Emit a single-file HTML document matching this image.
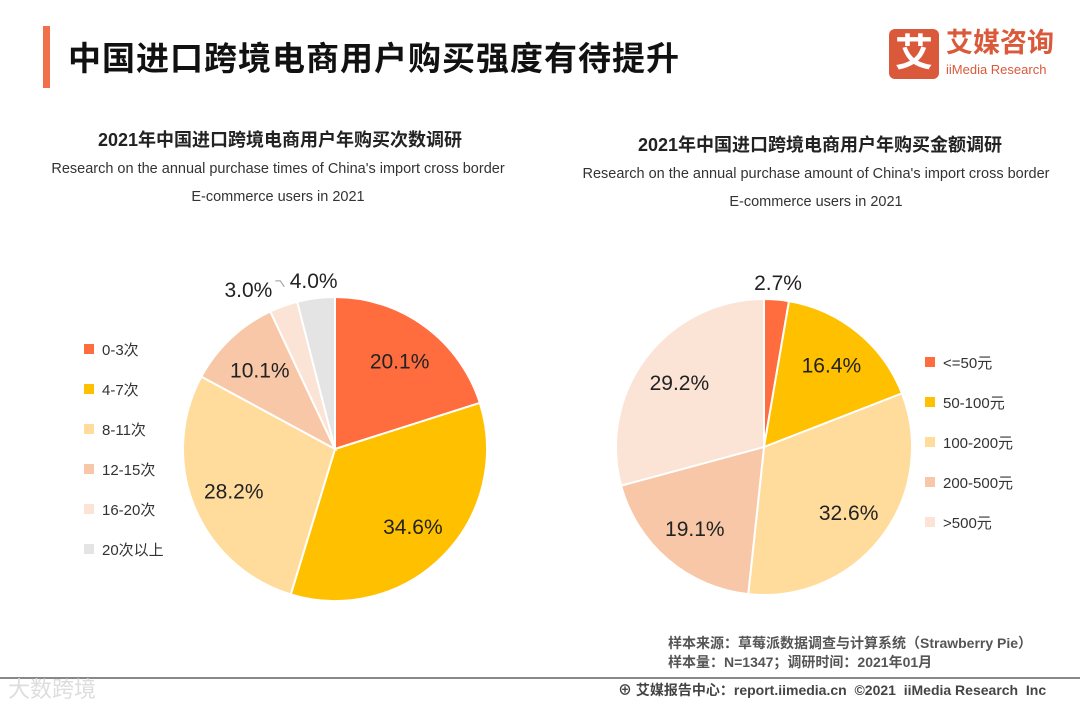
<!DOCTYPE html>
<html><head><meta charset="utf-8"><style>
body{margin:0;width:1080px;height:702px;background:#fff;overflow:hidden;font-family:"Liberation Sans","Noto Sans CJK SC",sans-serif;position:relative}
.abs{position:absolute}
</style></head><body>
<div class="abs" style="left:43px;top:26px;width:7px;height:62px;background:#F0704A"></div>
<div class="abs" style="left:68px;top:32px;font-size:33px;font-weight:bold;color:#111;letter-spacing:1px">中国进口跨境电商用户购买强度有待提升</div>
<div class="abs" style="left:889px;top:29px;width:50px;height:50px;background:#D9593A;border-radius:6px;color:#fff;font-size:38px;font-weight:bold;text-align:center;line-height:50px">艾</div>
<div class="abs" style="left:946px;top:28px;color:#D9593A;font-size:27px;font-weight:bold;line-height:30px">艾媒咨询</div>
<div class="abs" style="left:946px;top:62px;color:#D9593A;font-size:13px">iiMedia Research</div>

<div class="abs" style="left:0;width:560px;top:126px;text-align:center;font-size:18px;font-weight:bold;color:#222">2021年中国进口跨境电商用户年购买次数调研</div>
<div class="abs" style="left:0;width:556px;top:155px;text-align:center;font-size:14.5px;color:#333;line-height:28px">Research on the annual purchase times of China's import cross border<br>E-commerce users in 2021</div>
<div class="abs" style="left:560px;width:520px;top:131px;text-align:center;font-size:18px;font-weight:bold;color:#222">2021年中国进口跨境电商用户年购买金额调研</div>
<div class="abs" style="left:556px;width:520px;top:160px;text-align:center;font-size:14.5px;color:#333;line-height:28px">Research on the annual purchase amount of China's import cross border<br>E-commerce users in 2021</div>

<svg class="abs" style="left:0;top:0" width="1080" height="702" id="charts"></svg>

<div class="abs" style="left:668px;top:634px;font-size:14px;color:#555;line-height:19px;font-weight:bold">样本来源：草莓派数据调查与计算系统（Strawberry Pie）<br>样本量：N=1347；调研时间：2021年01月</div>
<div class="abs" style="left:0;top:677px;width:1080px;height:2px;background:#888"></div>
<div class="abs" style="left:8px;top:672px;font-size:22px;color:#ddd">大数跨境</div>
<div class="abs" style="left:618px;top:680px;font-size:14px;color:#444;font-weight:bold">⊕ 艾媒报告中心：report.iimedia.cn &nbsp;©2021 &nbsp;iiMedia Research &nbsp;Inc</div>

<script>
const leftCats=["0-3次","4-7次","8-11次","12-15次","16-20次","20次以上"];
const leftVals=[20.1,34.6,28.2,10.1,3.0,4.0];
const rightCats=["<=50元","50-100元","100-200元","200-500元",">500元"];
const rightVals=[2.7,16.4,32.6,19.1,29.2];
const leftColors=["#FF6D3F","#FFC000","#FFDC9C","#F7C7A7","#FBE3D5","#E4E4E4"];
const rightColors=["#FF6D3F","#FFC000","#FFDC9C","#F7C7A7","#FBE3D5"];
const svg=document.getElementById('charts');
const NS="http://www.w3.org/2000/svg";
function mk(t,a){const e=document.createElementNS(NS,t);for(const k in a)e.setAttribute(k,a[k]);svg.appendChild(e);return e;}
function pie(name,cats,vals,colors,cx,cy,r,lx,ly){
  const tot=vals.reduce((a,b)=>a+b,0);let a0=0;
  vals.forEach((v,i)=>{
    const a1=a0+v/tot*2*Math.PI;
    const p=(a)=>[cx+r*Math.sin(a),cy-r*Math.cos(a)];
    const [x0,y0]=p(a0),[x1,y1]=p(a1);
    const s=mk('path',{d:`M${cx},${cy}L${x0},${y0}A${r},${r} 0 ${a1-a0>Math.PI?1:0} 1 ${x1},${y1}Z`,fill:colors[i],stroke:'#fff','stroke-width':2});
    
    
    const am=(a0+a1)/2;const small=v<5;const rr=small?r*1.12:r*0.72;
    let tx=cx+rr*Math.sin(am),ty=cy-rr*Math.cos(am)+8,anchor='middle';
    if(small&&Math.sin(am)<-0.25){anchor='end';tx-=5;
      const ln=mk('path',{d:`M${tx+3},${ty-16}h5l4,6`,stroke:'#999',fill:'none','stroke-width':1});
      
      }
    const t=mk('text',{x:tx,y:ty,'text-anchor':anchor,'font-size':21,fill:'#222','font-family':'Liberation Sans,sans-serif'});
    t.textContent=v.toFixed(1)+'%';
    
    
    a0=a1;
  });
  cats.forEach((c,i)=>{
    const y=ly+i*40;
    const sq=mk('rect',{x:lx,y:y-5,width:10,height:10,fill:colors[i]});
    
    
    const t=mk('text',{x:lx+18,y:y+6,'font-size':15,fill:'#333','font-family':'Liberation Sans,Noto Sans CJK SC,sans-serif'});
    t.textContent=c;
    
    
  });
}
pie('left-pie',leftCats,leftVals,leftColors,335,449,152,84,349);
pie('right-pie',rightCats,rightVals,rightColors,764,447,148,925,362);
</script>
</body></html>
